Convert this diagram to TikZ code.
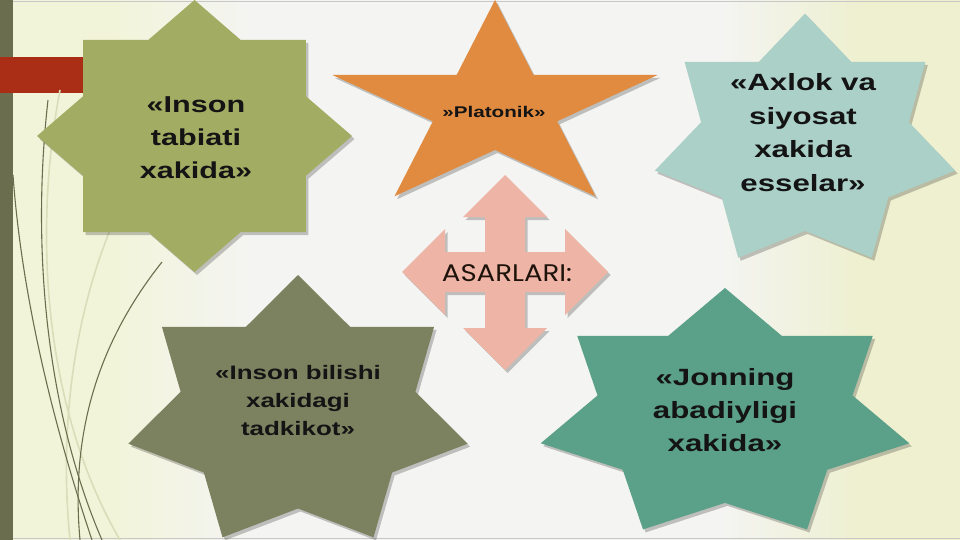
\documentclass[tikz,border=0pt]{standalone}
\usepackage{fontspec}
\setmainfont{Liberation Sans}
\newfontfamily\starfont{Liberation Sans}[FakeStretch=1.33]
\newfontfamily\arrowfont{Poppins}[FakeStretch=1.15]
\definecolor{creamL}{HTML}{F2F4D9}
\definecolor{creamR}{HTML}{EEF0D0}
\definecolor{midbg}{HTML}{F4F4F2}
\definecolor{barolive}{HTML}{6B6E4E}
\definecolor{barred}{HTML}{AA2D16}
\definecolor{starA}{HTML}{A3AC63}
\definecolor{starB}{HTML}{E08B40}
\definecolor{starC}{HTML}{ABD0C8}
\definecolor{starD}{HTML}{7C8260}
\definecolor{starE}{HTML}{5BA088}
\definecolor{arrowc}{HTML}{EEB5A6}
\definecolor{curvec}{HTML}{6B6E4E}
\definecolor{curvelight}{HTML}{D9DDBA}
% star outline: cx cy rx ry points ratio lastindex style
\newcommand\stargon[8]{%
  \path[#8] ({#1},{#2-#4})
    \foreach \k in {1,...,#7}{
      -- ({#1+#3*(1-(1-#6)*mod(\k,2))*cos(90+\k*180/#5)},
          {#2-#4*(1-(1-#6)*mod(\k,2))*sin(90+\k*180/#5)})
    } -- cycle;}
\tikzset{
  startext/.style={align=center, text=black!92, font=\starfont\bfseries},
  shadowfill/.style={fill=black, opacity=0.22, xshift=2.5pt, yshift=-3pt},
  curve/.style={draw=curvec, line width=1.1pt},
  faintcurve/.style={draw=curvelight, line width=1.6pt},
}
\begin{document}
\begin{tikzpicture}[x=1pt,y=-1pt]
\useasboundingbox (0,0) rectangle (960,540);
% background
\fill[creamL] (0,0) rectangle (960,540);
\shade[left color=creamL, right color=midbg] (110,0) rectangle (250,540);
\fill[midbg] (250,0) rectangle (720,540);
\shade[left color=midbg, right color=creamR] (720,0) rectangle (860,540);
\fill[creamR] (860,0) rectangle (960,540);
\draw[black!22, line width=1.2pt] (0,1.5) -- (960,1.5);
\draw[black!22, line width=1.2pt] (0,538.5) -- (960,538.5);
% left decorations
\fill[barolive] (0,0) rectangle (13,540);
\fill[barred] (0,57) rectangle (84,93);
\path[faintcurve] (60,90) .. controls (30,250) and (50,420) .. (120,540);
\path[faintcurve] (110,230) .. controls (70,330) and (60,440) .. (70,540);
\path[curve] (13,175) .. controls (22,300) and (55,430) .. (92,540);
\path[curve] (48,100) .. controls (30,260) and (50,420) .. (102,540);
\path[curve] (162,262) .. controls (100,340) and (70,430) .. (80,540);
% stars (shadows then fills)
\stargon{194.5}{136}{157.5}{136}{8}{0.765}{15}{shadowfill}
\stargon{194.5}{136}{157.5}{136}{8}{0.765}{15}{fill=starA}
\stargon{495}{108.5}{171}{108.5}{5}{0.382}{9}{shadowfill}
\stargon{495}{108.5}{171}{108.5}{5}{0.382}{9}{fill=starB}
\stargon{805}{142}{154}{128.5}{7}{0.692}{13}{shadowfill}
\stargon{805}{142}{154}{128.5}{7}{0.692}{13}{fill=starC}
\stargon{298}{413}{174}{138}{7}{0.692}{13}{shadowfill}
\stargon{298}{413}{174}{138}{7}{0.692}{13}{fill=starD}
\stargon{725}{415}{189}{127}{7}{0.692}{13}{shadowfill}
\stargon{725}{415}{189}{127}{7}{0.692}{13}{fill=starE}
% quad arrow
\def\quadpath{(505,175) -- (547,217) -- (525,217) -- (525,252) -- (565,252) -- (565,229) -- (608,272) -- (565,315) -- (565,292) -- (525,292) -- (525,328) -- (547,328) -- (505,370) -- (463,328) -- (485,328) -- (485,292) -- (445,292) -- (445,315) -- (402,272) -- (445,229) -- (445,252) -- (485,252) -- (485,217) -- (463,217) -- cycle}
\fill[shadowfill] \quadpath;
\fill[arrowc] \quadpath;
% texts
\node[startext, font=\starfont\bfseries\fontsize{23}{33}\selectfont] (inson) at (196,138) {«Inson\\tabiati\\xakida»};
\node[startext, font=\starfont\bfseries\fontsize{15.5}{18}\selectfont] (platonik) at (494,112) {»Platonik»};
\node[startext, font=\starfont\bfseries\fontsize{23.5}{33.7}\selectfont] (axlok) at (803,132.5) {«Axlok va\\siyosat\\xakida\\esselar»};
\node[startext, font=\starfont\bfseries\fontsize{19.5}{28}\selectfont] (bilishi) at (298,401) {«Inson bilishi\\xakidagi\\tadkikot»};
\node[startext, font=\starfont\bfseries\fontsize{23.5}{33}\selectfont] (jonning) at (725,410) {«Jonning\\abadiyligi\\xakida»};
\node[text=black!85!brown, font=\arrowfont\fontsize{24}{28}\selectfont] (asarlari) at (507,273) {ASARLARI:};
\end{tikzpicture}
\end{document}
